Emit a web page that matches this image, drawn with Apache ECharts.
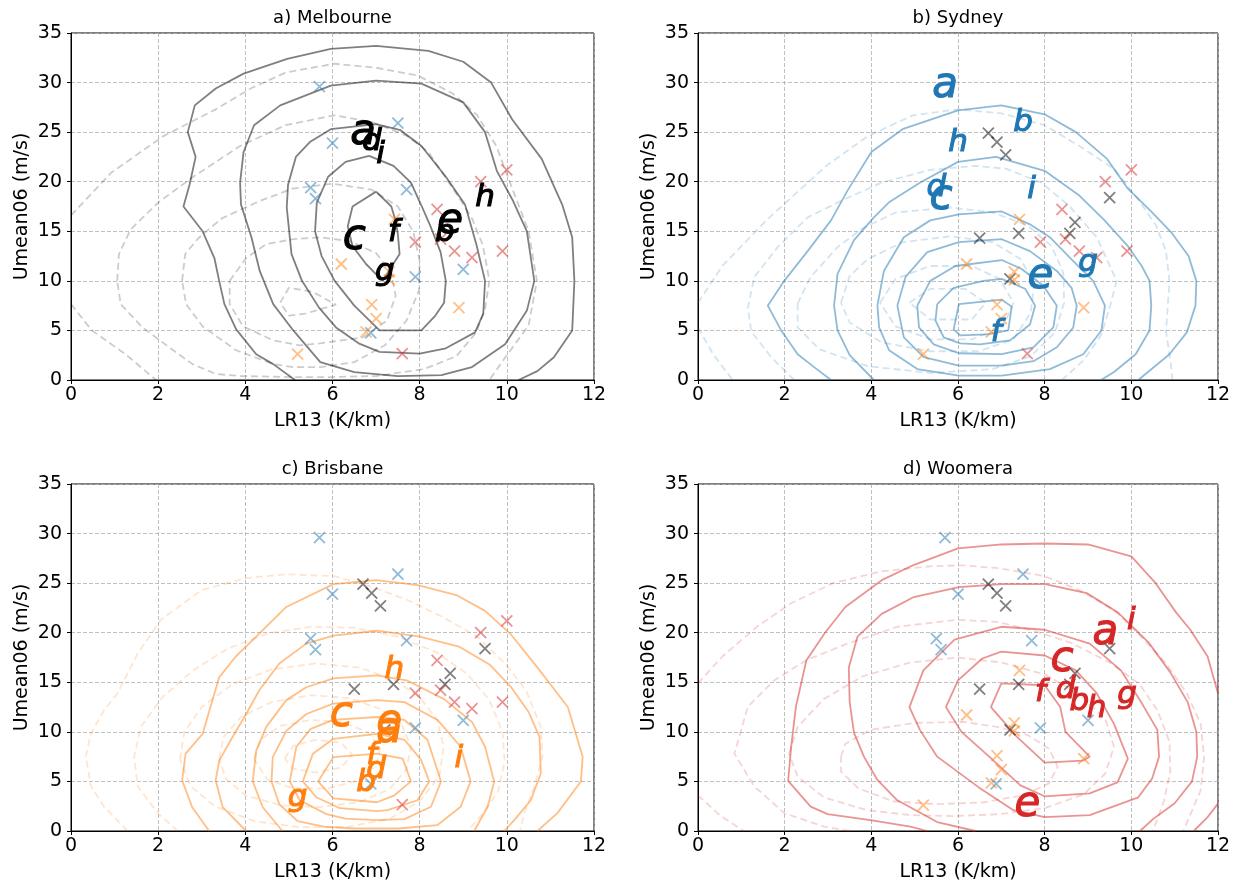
<!DOCTYPE html>
<html>
<head>
<meta charset="utf-8">
<script src="https://cdn.jsdelivr.net/npm/echarts@6.0.0/dist/echarts.min.js"></script>
<style>
html,body{margin:0;padding:0;background:#fff;}
#c{width:1244px;height:889px;}
</style>
</head>
<body>
<div id="c"></div>
<script>
// ---------------- data ----------------
const xTicks = [0, 2, 4, 6, 8, 10, 12];
const yTicks = [0, 5, 10, 15, 20, 25, 30, 35];
const panelTitles = ['a) Melbourne', 'b) Sydney', 'c) Brisbane', 'd) Woomera'];
const xName = 'LR13 (K/km)';
const yName = 'Umean06 (m/s)';
const letters = ['a', 'b', 'c', 'd', 'e', 'f', 'g', 'h', 'i'];

// points of each city, in letter order a..i  [LR13, Umean06]
const melbournePts = [[6.7,24.9],[8.58,14.8],[6.5,14.3],[6.9,24.0],[8.7,15.9],[7.4,14.8],[7.2,10.2],[9.5,18.4],[7.1,22.7]];
const sydneyPts    = [[5.7,29.6],[7.5,25.9],[5.61,18.3],[5.5,19.4],[7.9,10.4],[6.88,4.75],[9.0,11.15],[6.0,23.9],[7.7,19.2]];
const brisbanePts  = [[7.3,10.1],[6.77,4.85],[6.2,11.7],[7.0,6.2],[7.3,10.9],[6.9,7.6],[5.2,2.6],[7.42,16.2],[8.9,7.3]];
const woomeraPts   = [[9.4,20.0],[8.8,13.0],[8.4,17.2],[8.48,14.2],[7.6,2.66],[7.9,13.9],[9.9,13.0],[9.2,12.35],[10.0,21.2]];

// ---- contour lines ----
// a) Melbourne
const melSolid1 = [[5.14,0],[4.64,1.6],[4.25,2.6],[3.79,5.1],[3.52,7.65],[3.4,10],[3.29,12.3],[3.02,15.0],[2.58,17.5],[2.72,19.7],[2.86,22.5],[2.68,25.0],[2.84,27.7],[3.32,29.4],[3.96,30.9],[4.96,32.4],[5.96,33.4],[7.0,33.7],[8.2,33.2],[9.0,32.1],[9.64,30.0],[10.12,26.3],[10.8,22.3],[11.27,17.7],[11.5,14.4],[11.55,10],[11.5,5],[11.08,2.3],[10.7,0.9],[10.27,0]];
const melSolid2 = [[3.88,19.9],[3.9,17.7],[4.14,14.4],[4.33,11.0],[4.64,7.65],[5.1,5.0],[5.72,1.8],[6.5,0.8],[7.5,0.4],[8.5,0.5],[9.2,1.3],[9.96,3.6],[10.46,7.0],[10.63,10],[10.46,15.0],[10.15,18.0],[9.77,21.1],[9.5,25.0],[9.0,28.0],[8.04,29.9],[7.0,30.2],[5.96,29.7],[4.8,27.7],[4.2,25.7],[3.96,23.0],[3.88,19.9]];
const melSolid3 = [[7.0,25.8],[7.56,25.2],[8.04,23.6],[8.6,20.5],[9.04,17.7],[9.3,13.7],[9.5,10],[9.46,6.7],[9.27,4.8],[8.6,3.2],[8.0,2.67],[7.08,2.83],[6.6,3.7],[6.08,5.3],[5.69,7.3],[5.3,10],[5.06,12.7],[4.95,17.4],[4.98,19.7],[5.16,22.5],[5.48,24.0],[5.96,25.3],[7.0,25.8]];
const melSolid4 = [[6.84,22.6],[7.4,21.6],[7.8,19.9],[8.04,17.6],[8.24,15.6],[8.48,12.9],[8.6,10],[8.56,7.8],[8.36,6.5],[8.04,5.0],[7.08,5.0],[6.5,7.5],[6.05,10],[5.75,12.5],[5.6,15.0],[5.64,17.9],[5.9,20.5],[6.3,22.0],[6.84,22.6]];
const melSolid5 = [[7.0,19.0],[7.35,17.5],[7.45,16.0],[7.5,14.7],[7.54,12.7],[7.15,10.0],[6.77,11.7],[6.46,13.5],[6.35,15.5],[6.46,17.5],[7.0,19.0]];
const melDash1  = [[0,16.6],[0.92,20.9],[2.12,24.6],[3.32,27.3],[4.12,29.4],[4.92,31.0],[6.04,31.9],[7.0,31.5],[7.96,30.7],[8.76,28.9],[9.32,26.7],[9.76,23.6],[10.1,19.6],[10.5,15.0],[10.69,10],[10.5,5.5],[10.0,2.5],[9.6,0]];
const melDash1b = [[0,7.65],[0.48,5.0],[1.25,2.6],[1.95,0]];
const melDash2  = [[1.06,10],[1.1,12.7],[1.37,15.2],[2.0,17.9],[2.84,20.6],[3.88,23.6],[4.92,25.7],[6.04,26.7],[6.92,26.0],[7.72,24.6],[8.2,23.0],[8.52,20.9],[8.9,18.4],[9.2,16.3],[9.45,13.6],[9.6,10],[9.5,7.2],[9.3,4.8],[8.84,2.4],[8.1,1.1],[7.0,0.4],[6.0,0.3],[5.0,0.3],[3.9,0.4],[3.33,0.6],[2.79,1.6],[2.25,3.3],[1.64,5.3],[1.14,7.65],[1.06,10]];
const melDash3  = [[2.55,10],[2.62,12.7],[2.92,14.3],[3.46,16.3],[4.3,18.0],[5.08,19.3],[6.0,19.8],[6.9,19.2],[7.5,17.5],[7.85,15.0],[8.0,12.0],[7.98,9.0],[7.7,6.0],[7.2,3.5],[6.5,1.8],[5.72,1.3],[5.1,1.3],[4.64,1.6],[3.79,3.0],[3.02,5.4],[2.64,7.65],[2.55,10]];
const melDash4  = [[3.64,10],[4.02,12.3],[4.48,13.7],[5.1,14.2],[5.72,14.4],[6.4,14.0],[7.0,12.8],[7.35,10.8],[7.45,8.5],[7.25,6.0],[6.7,4.3],[5.72,3.7],[5.25,3.5],[4.64,4.0],[3.95,5.4],[3.64,7.65],[3.64,10]];
const melDash5  = [[4.8,7.8],[5.0,9.3],[5.54,8.9],[6.08,7.6],[5.38,6.7],[5.0,6.5],[4.8,7.8]];

// b) Sydney
const sydSolid1 = [[3.07,0],[2.68,1.3],[2.3,2.6],[1.92,5.0],[1.61,7.5],[1.99,10],[2.53,13.0],[3.07,16.1],[3.45,19.1],[4.0,23.0],[4.72,25.3],[6.0,27.2],[7.0,27.7],[8.0,26.8],[8.72,25.0],[9.44,22.3],[9.92,19.3],[10.48,16.9],[10.92,14.9],[11.32,12.5],[11.5,10],[11.48,7.5],[11.28,4.8],[10.88,2.6],[10.16,0]];
const sydSolid2 = [[4.06,0],[3.5,2.5],[3.22,5.0],[3.14,7.5],[3.22,10.7],[3.6,14.1],[4.06,16.4],[4.4,17.9],[5.12,19.9],[6.0,22.0],[6.88,22.5],[8.0,21.1],[8.8,18.6],[9.36,16.2],[9.92,13.5],[10.24,11.5],[10.42,10],[10.46,7.5],[10.42,5.0],[10.1,2.6],[9.6,0.8],[9.3,0]];
const sydSolid3 = [[4.14,7.5],[4.29,11.0],[4.75,14.4],[5.36,16.1],[6.02,16.7],[7.01,17.0],[7.66,15.7],[8.12,14.4],[8.66,12.0],[9.12,10.0],[9.39,7.5],[9.31,5.0],[8.89,2.6],[8.12,1.1],[7.01,0.44],[6.02,0.44],[5.06,1.1],[4.41,3.0],[4.18,5.3],[4.14,7.5]];
const sydSolid4 = [[4.6,7.5],[4.79,10.4],[5.29,12.9],[6.02,13.9],[7.01,14.2],[7.66,13.0],[8.28,11.0],[8.62,9.3],[8.74,7.5],[8.66,5.3],[8.28,3.3],[7.74,1.9],[7.01,1.45],[6.02,1.45],[5.21,2.3],[4.75,4.3],[4.6,7.5]];
const sydSolid5 = [[5.06,7.5],[5.36,10],[5.94,11.5],[7.01,12.1],[7.47,11.2],[7.97,9.5],[8.28,7.5],[8.2,5.3],[7.74,3.3],[7.01,2.6],[6.02,2.7],[5.44,3.6],[5.1,5.3],[5.06,7.5]];
const sydSolid6 = [[5.52,7.66],[5.9,9.3],[6.59,10.0],[7.01,10.2],[7.55,9.2],[7.78,7.5],[7.66,5.6],[7.2,4.0],[6.51,3.6],[6.05,3.7],[5.67,4.3],[5.48,6.0],[5.52,7.66]];
const sydSolid7 = [[6.02,7.66],[7.01,8.1],[7.24,7.4],[7.16,5.0],[6.67,4.6],[6.05,4.5],[5.9,5.1],[6.02,7.66]];
const sydDash1  = [[0,7.8],[0.56,11.5],[1.6,16.2],[2.96,21.6],[3.92,24.6],[4.96,26.7],[6.0,27.3],[7.0,26.9],[8.0,25.7],[8.8,23.6],[9.6,21.3],[10.16,18.2],[10.57,15.6],[10.8,13.0],[10.88,10],[10.8,4.9],[10.9,2.0],[10.95,0]];
const sydDash1b = [[0,5.3],[0.35,2.6],[0.8,0]];
const sydDash2  = [[2.22,0],[1.69,2.3],[1.23,4.9],[1.15,7.3],[1.3,10.4],[1.84,13.4],[2.53,16.4],[3.36,18.2],[4.24,19.9],[5.36,21.2],[6.4,21.6],[7.12,21.3],[7.92,19.9],[8.56,17.6],[9.2,14.4],[9.66,10],[9.5,7.3],[9.3,4.5],[8.9,2.0],[8.4,0]];
const sydDash3  = [[2.3,7.7],[2.6,10.4],[3.22,13.4],[3.8,15.3],[4.56,16.9],[5.84,17.4],[6.8,16.9],[7.6,15.6],[8.16,13.5],[8.43,10.8],[8.45,7.8],[8.24,4.8],[7.68,2.4],[6.8,1.1],[5.36,0.7],[3.92,1.4],[2.8,3.1],[2.3,5.3],[2.3,7.7]];
const sydDash4  = [[3.3,7.8],[3.5,10.5],[3.92,12.2],[4.72,13.9],[5.84,14.5],[6.8,13.9],[7.44,12.2],[7.76,9.8],[7.68,6.8],[7.28,4.1],[6.48,2.9],[5.36,2.9],[4.24,3.8],[3.5,5.8],[3.3,7.8]];
const sydDash5  = [[4.2,7.8],[4.56,10.2],[5.36,11.5],[6.32,11.5],[6.96,10.2],[7.28,7.8],[7.04,5.4],[6.32,4.1],[5.36,4.1],[4.56,5.4],[4.2,7.8]];
const sydDash6  = [[4.88,7.8],[5.36,9.2],[6.16,9.2],[6.64,7.8],[6.32,6.1],[5.36,6.1],[4.88,7.8]];

// c) Brisbane
const brisSolid1 = [[3.17,0],[2.78,2.4],[2.55,5.1],[2.63,7.8],[3.02,9.8],[3.2,12.5],[3.4,15.5],[3.78,17.6],[4.32,19.9],[4.94,22.6],[6.02,24.9],[7.0,25.3],[7.96,24.8],[8.84,23.8],[9.5,22.2],[10.1,19.8],[10.7,16.5],[11.4,12.5],[11.74,7.5],[11.7,5.0],[11.16,1.8],[10.7,0]];
const brisSolid2 = [[4.02,0],[3.48,2.4],[3.32,5.1],[3.4,7.1],[3.71,9.5],[4.02,11.8],[4.32,14.2],[4.78,16.9],[5.4,18.9],[6.02,19.7],[7.02,20.2],[8.0,19.6],[8.9,18.6],[9.6,16.8],[10.1,14.5],[10.5,12.0],[10.75,9.5],[10.78,5.8],[10.55,3.1],[10.17,1.1],[9.94,0]];
const brisSolid3 = [[4.85,0],[4.4,2.4],[4.17,5.0],[4.25,8.1],[4.48,10.5],[4.94,13.2],[5.4,14.5],[6.02,15.4],[7.02,15.7],[7.7,15.2],[8.56,13.3],[9.2,11.0],[9.5,8.5],[9.71,5.0],[9.56,2.45],[9.25,0]];
const brisSolid4 = [[5.2,1.0],[4.78,2.7],[4.6,5.0],[4.63,7.45],[4.94,10.1],[5.4,11.8],[6.02,12.85],[7.02,13.2],[7.65,13.0],[8.41,11.2],[8.94,8.5],[9.17,5.0],[8.94,2.45],[8.41,0.6],[7.5,0.25],[6.5,0.25],[5.8,0.45],[5.2,1.0]];
const brisSolid5 = [[5.02,5.0],[5.17,8.5],[5.5,10.3],[6.02,11.2],[7.02,11.5],[7.65,11.2],[8.18,9.2],[8.49,5.0],[8.26,2.45],[7.65,1.2],[7.02,1.1],[6.3,1.25],[5.86,1.7],[5.25,3.1],[5.02,5.0]];
const brisSolid6 = [[5.32,5.0],[5.55,7.8],[6.02,9.3],[7.02,9.8],[7.65,9.2],[8.03,7.2],[8.22,5.0],[7.95,3.1],[7.26,2.1],[7.02,2.0],[6.17,2.3],[5.63,3.4],[5.32,5.0]];
const brisSolid7 = [[5.67,5.0],[6.02,7.45],[7.02,7.8],[7.61,7.3],[7.8,5.0],[7.42,3.6],[7.02,2.9],[6.02,3.3],[5.67,5.0]];
const brisDash1  = [[1.3,0],[0.76,2.45],[0.46,4.5],[0.34,7.5],[0.46,9.85],[0.76,12.2],[1.07,13.9],[1.53,17.9],[2.06,21.3],[3.0,24.3],[4.0,25.5],[4.94,25.9],[6.04,25.7],[6.92,24.6],[7.72,23.3],[8.52,21.6],[9.32,19.6],[9.96,16.9],[10.44,14.2],[10.78,10.5],[10.82,7.5],[10.63,4.5],[10.4,1.8],[10.3,0]];
const brisDash2  = [[2.45,0],[1.99,1.8],[1.53,4.5],[1.45,7.5],[1.6,10.5],[2.1,13.5],[2.8,16.2],[3.6,18.4],[4.5,19.9],[5.5,20.6],[6.5,20.5],[7.5,19.6],[8.4,18.0],[9.1,15.8],[9.6,13.2],[9.9,10],[9.95,7.0],[9.8,4.0],[9.4,1.5],[9.1,0]];
const brisDash3  = [[2.5,7.2],[2.6,10.0],[3.0,12.5],[3.7,14.8],[4.6,16.3],[5.6,16.9],[6.6,16.5],[7.4,15.3],[8.0,13.5],[8.4,11.2],[8.55,8.5],[8.45,5.5],[8.0,3.0],[7.3,1.2],[6.3,0.4],[5.2,0.4],[4.2,1.0],[3.3,2.5],[2.75,4.5],[2.5,7.2]];
const brisDash4  = [[3.4,7.3],[3.5,9.5],[3.9,11.5],[4.6,13.0],[5.5,13.7],[6.4,13.4],[7.1,12.3],[7.6,10.6],[7.8,8.5],[7.7,6.2],[7.3,4.2],[6.6,2.9],[5.7,2.4],[4.8,2.6],[4.0,3.6],[3.55,5.3],[3.4,7.3]];
const brisDash5  = [[4.2,7.3],[4.35,9.2],[4.8,10.6],[5.5,11.2],[6.2,11.0],[6.8,10.0],[7.1,8.4],[7.0,6.6],[6.6,5.1],[5.9,4.3],[5.1,4.3],[4.5,5.2],[4.2,7.3]];
const brisDash6  = [[4.9,7.3],[5.1,8.6],[5.6,9.2],[6.2,8.9],[6.45,7.7],[6.2,6.4],[5.6,5.9],[5.1,6.3],[4.9,7.3]];

// d) Woomera
const wooSolid1  = [[12,13.9],[11.76,17.6],[11.36,20.3],[11.04,22.0],[10.56,25.0],[10.0,27.7],[9.0,28.9],[8.0,29.0],[7.0,28.9],[6.0,28.5],[4.96,26.8],[4.24,25.3],[3.4,22.6],[2.93,20.0],[2.5,17.2],[2.26,12.55],[2.15,8.5],[2.08,5.05],[2.6,2.46],[2.99,1.7],[3.98,1.1],[4.9,0.44],[5.29,0]];
const wooSolid1b = [[12,2.76],[11.76,1.4],[11.44,0]];
const wooSolid2  = [[6.4,0],[5.52,0.9],[4.6,3.1],[4.14,5.15],[3.83,7.5],[3.6,9.9],[3.5,13.0],[3.48,16.5],[3.68,19.6],[4.24,21.9],[4.98,23.6],[6.02,24.6],[7.01,24.9],[8.01,24.9],[8.97,24.0],[9.7,22.0],[10.4,19.0],[10.9,16.0],[11.3,13.0],[11.5,10],[11.52,7.5],[11.4,5.0],[11.0,2.8],[10.5,1.2],[10.2,0]];
const wooSolid3  = [[7.0,20.6],[8.0,20.3],[9.04,18.9],[9.76,16.2],[10.24,12.9],[10.6,10.2],[10.64,7.5],[10.48,5.3],[10.16,3.4],[9.04,1.6],[8.0,1.4],[7.28,2.1],[6.48,4.4],[5.52,7.5],[5.12,10.2],[4.88,12.5],[5.2,16.2],[5.92,19.3],[7.0,20.6]];
const wooSolid4  = [[7.0,18.1],[8.0,17.7],[8.72,16.2],[9.2,13.9],[9.6,10.8],[9.92,7.3],[9.68,4.9],[9.04,3.8],[8.0,3.5],[7.44,4.6],[6.72,7.5],[6.08,10.0],[5.72,12.5],[6.0,15.2],[6.56,17.4],[7.0,18.1]];
const wooSolid5  = [[7.0,14.9],[8.0,14.7],[8.36,12.5],[8.48,10.0],[9.04,7.5],[8.88,7.1],[8.0,6.9],[7.36,9.5],[6.76,12.5],[7.0,14.9]];
const wooDash1   = [[0,14.9],[0.56,17.6],[1.36,20.6],[2.16,23.0],[3.12,25.0],[4.24,26.2],[5.36,26.7],[6.08,26.8],[6.96,26.5],[8.0,25.7],[8.8,24.3],[9.6,22.3],[10.16,19.9],[10.8,16.9],[11.28,13.9],[11.6,10.8],[11.68,7.5],[11.6,4.1],[11.2,0]];
const wooDash1b  = [[0,3.6],[0.5,1.6],[1.05,0]];
const wooDash2   = [[3.5,0],[2.91,0.44],[1.99,1.8],[1.3,4.5],[0.84,7.8],[1.15,12.55],[1.76,15.2],[2.53,17.3],[3.45,18.9],[4.6,20.6],[5.98,21.3],[6.9,21.1],[7.66,20.3],[8.6,19.0],[9.5,17.0],[10.19,14.8],[10.6,12.2],[10.88,9.0],[10.9,6.0],[10.75,3.0],[10.5,0]];
const wooDash3   = [[2.1,7.8],[2.3,10.5],[2.9,13.3],[3.8,15.6],[4.9,17.0],[6.0,17.5],[7.0,17.0],[8.0,15.8],[8.8,13.8],[9.4,11.3],[9.6,8.5],[9.4,5.8],[8.9,3.7],[8.0,2.3],[6.96,1.7],[5.9,1.5],[4.9,1.6],[3.9,2.1],[2.9,3.4],[2.3,5.5],[2.1,7.8]];
const wooDash4   = [[3.3,7.5],[3.4,8.8],[3.98,10.2],[4.98,10.9],[6.13,11.0],[6.9,10.5],[7.6,9.7],[8.1,8.3],[8.3,6.5],[8.1,4.8],[7.5,3.6],[6.6,2.9],[5.5,2.7],[4.5,3.0],[3.7,4.3],[3.3,6.0],[3.3,7.5]];

// ---------------- styling / layout ----------------
const FONT = 'DejaVu Sans';
const cityColor = {
  mel: 'rgb(0,0,0)', syd: 'rgb(31,119,180)', bris: 'rgb(255,127,14)', woo: 'rgb(214,39,40)'
};
const cityRGB = { mel: '0,0,0', syd: '31,119,180', bris: '255,127,14', woo: '214,39,40' };
const cityPts = { mel: melbournePts, syd: sydneyPts, bris: brisbanePts, woo: woomeraPts };
const panels = [
  { city: 'mel', letterColor: '#000000',
    solid: [melSolid1, melSolid2, melSolid3, melSolid4, melSolid5],
    dashed: [melDash1, melDash1b, melDash2, melDash3, melDash4, melDash5] },
  { city: 'syd', letterColor: '#1f77b4',
    solid: [sydSolid1, sydSolid2, sydSolid3, sydSolid4, sydSolid5, sydSolid6, sydSolid7],
    dashed: [sydDash1, sydDash1b, sydDash2, sydDash3, sydDash4, sydDash5, sydDash6] },
  { city: 'bris', letterColor: '#ff7f0e',
    solid: [brisSolid1, brisSolid2, brisSolid3, brisSolid4, brisSolid5, brisSolid6, brisSolid7],
    dashed: [brisDash1, brisDash2, brisDash3, brisDash4, brisDash5, brisDash6] },
  { city: 'woo', letterColor: '#d62728',
    solid: [wooSolid1, wooSolid1b, wooSolid2, wooSolid3, wooSolid4, wooSolid5],
    dashed: [wooDash1, wooDash1b, wooDash2, wooDash3, wooDash4] }
];
const grids = [
  { left: 71, top: 33, width: 523, height: 347 },
  { left: 698, top: 33, width: 520, height: 347 },
  { left: 71, top: 484, width: 523, height: 347 },
  { left: 698, top: 484, width: 520, height: 347 }
];
const bigLetters = ['a', 'c', 'e'];

const xAxes = [], yAxes = [], series = [], graphics = [];
grids.forEach((g, i) => {
  g.show = true; g.borderColor = '#000'; g.borderWidth = 1; g.backgroundColor = 'rgba(0,0,0,0)';
  xAxes.push({
    gridIndex: i, type: 'value', min: xTicks[0], max: xTicks[xTicks.length - 1], interval: xTicks[1] - xTicks[0],
    name: xName, nameLocation: 'middle', nameGap: 32,
    nameTextStyle: { fontSize: 19, color: '#000', fontFamily: FONT },
    axisLine: { show: true, onZero: false, lineStyle: { color: '#000', width: 1 } },
    axisTick: { show: true, inside: false, length: 4, lineStyle: { color: '#000', width: 1 } },
    axisLabel: { show: true, fontSize: 19, color: '#000', fontFamily: FONT, margin: 6 },
    splitLine: { show: true, lineStyle: { color: '#b0b0b0', width: 0.8, type: [4, 2] } }
  });
  yAxes.push({
    gridIndex: i, type: 'value', min: yTicks[0], max: yTicks[yTicks.length - 1], interval: yTicks[1] - yTicks[0],
    name: yName, nameLocation: 'middle', nameGap: 39,
    nameTextStyle: { fontSize: 19, color: '#000', fontFamily: FONT },
    axisLine: { show: true, onZero: false, lineStyle: { color: '#000', width: 1 } },
    axisTick: { show: true, inside: false, length: 4, lineStyle: { color: '#000', width: 1 } },
    axisLabel: { show: true, fontSize: 19, color: '#000', fontFamily: FONT, margin: 9 },
    splitLine: { show: true, lineStyle: { color: '#b0b0b0', width: 0.8, type: [4, 2] } }
  });
  graphics.push({
    type: 'text', x: g.left + g.width / 2, y: g.top - 15, z: 100,
    style: { text: panelTitles[i], fill: '#000', font: '18px "' + FONT + '"', textAlign: 'center', textVerticalAlign: 'middle' }
  });

  const p = panels[i];
  const rgb = cityRGB[p.city];
  p.dashed.forEach(d => series.push({
    type: 'line', xAxisIndex: i, yAxisIndex: i, data: d, showSymbol: false, symbol: 'none',
    smooth: false, clip: true, silent: true, z: 2, animation: false,
    lineStyle: { color: 'rgba(' + rgb + ',0.2)', width: 1.8, type: [7, 4] }
  }));
  p.solid.forEach(d => series.push({
    type: 'line', xAxisIndex: i, yAxisIndex: i, data: d, showSymbol: false, symbol: 'none',
    smooth: false, clip: true, silent: true, z: 3, animation: false,
    lineStyle: { color: 'rgba(' + rgb + ',0.5)', width: 1.8, type: 'solid' }
  }));
  // crosses of the other three cities
  ['syd', 'mel', 'bris', 'woo'].filter(c => c !== p.city).forEach(c => series.push({
    type: 'scatter', xAxisIndex: i, yAxisIndex: i, data: cityPts[c],
    symbol: 'path://M0,0L10,10M10,0L0,10', symbolSize: 11, silent: true, z: 5, animation: false,
    itemStyle: { color: 'rgba(0,0,0,0)', borderColor: cityColor[c], borderWidth: 1.8, opacity: 0.5 }
  }));
  // letters of the panel's own city
  series.push({
    type: 'scatter', xAxisIndex: i, yAxisIndex: i, symbolSize: 1, silent: true, z: 10, animation: false,
    itemStyle: { color: 'rgba(0,0,0,0)', opacity: 1 },
    data: cityPts[p.city].map((pt, k) => ({
      value: pt, name: letters[k],
      label: {
        fontSize: bigLetters.includes(letters[k]) ? 42 : 31,
        offset: letters[k] === 'g' ? [0, -7] : [0, 0]
      }
    })),
    label: { show: true, position: 'inside', formatter: '{b}', color: p.letterColor, opacity: 1,
      fontStyle: 'italic', fontFamily: FONT, fontSize: 31,
      textBorderColor: p.letterColor, textBorderWidth: 1.1 }
  });
});

const chart = echarts.init(document.getElementById('c'), null, { renderer: 'canvas' });
chart.setOption({
  animation: false,
  backgroundColor: '#ffffff',
  textStyle: { fontFamily: FONT },
  grid: grids,
  xAxis: xAxes,
  yAxis: yAxes,
  series: series,
  graphic: graphics
});
</script>
</body>
</html>
